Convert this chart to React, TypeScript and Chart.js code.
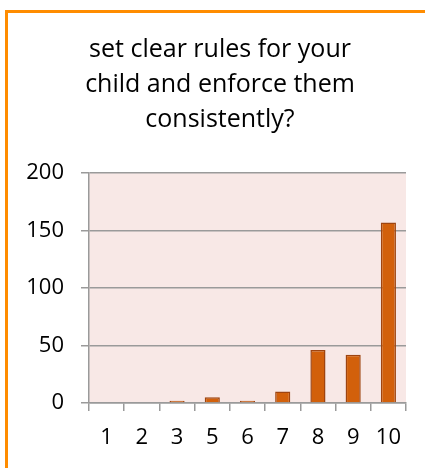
import React, { useEffect, useRef } from "react";
import { Chart, registerables } from "chart.js";

Chart.register(...registerables);

const titleLines = ["set clear rules for your", "child and enforce them", "consistently?"];
const categories = ["1", "2", "3", "5", "6", "7", "8", "9", "10"];
const values = [0, 0, 2, 5, 2, 10, 46, 42, 157];
const yTicks = [0, 50, 100, 150, 200];

const plotBg = {
  id: "plotBg",
  beforeDraw(chart: any) {
    const { ctx, chartArea } = chart;
    ctx.save();
    ctx.fillStyle = "#f8e8e6";
    ctx.fillRect(chartArea.left, chartArea.top, chartArea.right - chartArea.left, chartArea.bottom - chartArea.top);
    ctx.restore();
  },
};

export default function App() {
  const ref = useRef<HTMLCanvasElement>(null);
  useEffect(() => {
    document.body.style.margin = "0";
    document.body.style.overflow = "hidden";
    const chart = new Chart(ref.current!, {
      type: "bar",
      data: {
        labels: categories,
        datasets: [
          {
            data: values,
            backgroundColor: "#d2600b",
            borderColor: "#9e4410",
            borderWidth: 1.5,
            categoryPercentage: 0.86,
            barPercentage: 0.5,
            yAxisID: "y",
          },
        ],
      },
      options: {
        animation: false,
        responsive: false,
        layout: { padding: { left: 15, right: 0, top: 32, bottom: 0 } },
        plugins: {
          legend: { display: false },
          tooltip: { enabled: false },
          title: {
            display: true,
            text: titleLines,
            color: "#000",
            font: { family: "Open Sans", size: 25, weight: "normal", lineHeight: 1.4 },
            padding: { top: 0, bottom: 36 },
          },
        },
        scales: {
          y: {
            min: 0,
            max: 200,
            afterBuildTicks: (s: any) => {
              s.ticks = yTicks.map((v) => ({ value: v }));
            },
            afterFit: (s: any) => {
              s.width = 74;
            },
            ticks: {
              color: "#000",
              font: { family: "Open Sans", size: 22 },
              padding: 17,
            },
            grid: { color: "#9a9a9a", lineWidth: 1.5, tickLength: 8 },
            border: { color: "#9a9a9a", width: 1.5 },
          },
          y2: {
            position: "right",
            display: true,
            grid: { display: false },
            ticks: { display: false },
            border: { display: false },
            afterFit: (s: any) => {
              s.width = 19;
            },
          },
          x: {
            afterFit: (s: any) => {
              s.height = 65;
            },
            ticks: {
              color: "#000",
              font: { family: "Open Sans", size: 22 },
              padding: 14,
            },
            grid: { drawOnChartArea: false, color: "#9a9a9a", lineWidth: 1.5, tickLength: 8, offset: true },
            border: { color: "#9a9a9a", width: 1.5 },
          },
        },
      },
      plugins: [plotBg],
    });
    return () => chart.destroy();
  }, []);
  return (
    <div style={{ position: "relative", width: 425, height: 468, overflow: "hidden", background: "#fff" }}>
      <div
        style={{
          position: "absolute",
          left: 5,
          top: 10,
          width: 500,
          height: 500,
          borderLeft: "3px solid #ff8c00",
          borderTop: "3px solid #ff8c00",
        }}
      />
      <canvas ref={ref} width={425} height={468} style={{ position: "absolute", left: 0, top: 0 }} />
    </div>
  );
}
